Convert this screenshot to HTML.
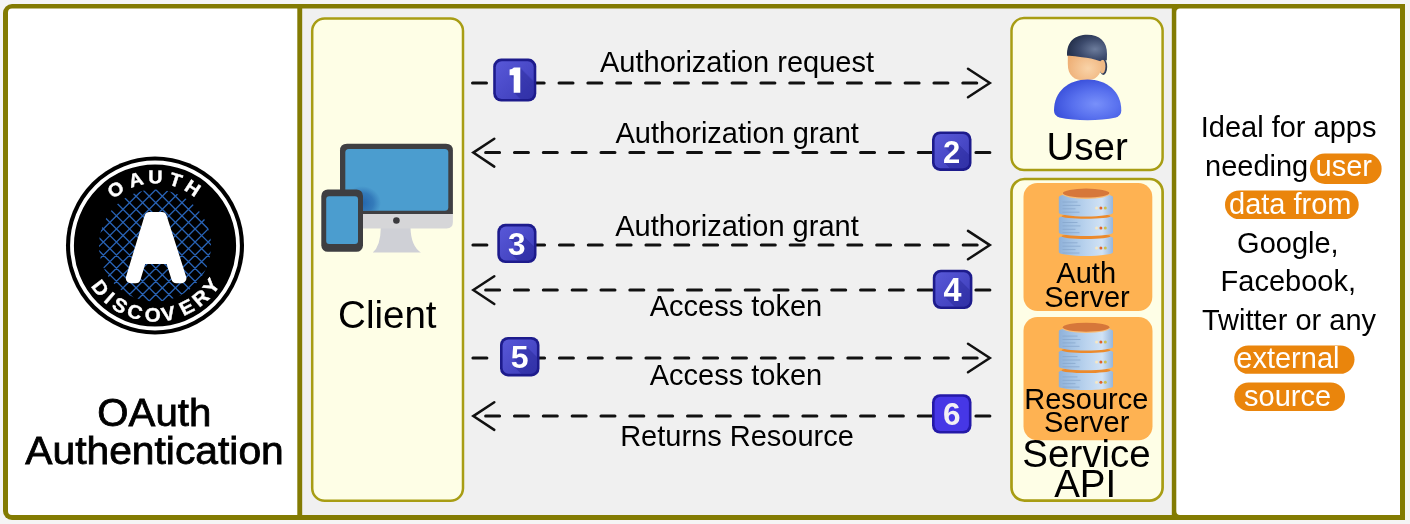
<!DOCTYPE html>
<html><head><meta charset="utf-8"><title>OAuth Authentication</title>
<style>
html,body{margin:0;padding:0;background:#f5f5f5;}
body{width:1410px;height:524px;overflow:hidden;}
svg{display:block;will-change:transform;}
text{font-family:"Liberation Sans",sans-serif;}
</style></head>
<body>
<svg width="1410" height="524" viewBox="0 0 1410 524">
<defs>
  <clipPath id="bc1"><rect x="495.8" y="61.2" width="37.9" height="37.7" rx="6"/></clipPath>
  <clipPath id="bc2"><rect x="934.6" y="134.0" width="34.3" height="34.3" rx="6"/></clipPath>
  <clipPath id="bc3"><rect x="499.9" y="226.4" width="34.0" height="34.0" rx="6"/></clipPath>
  <clipPath id="bc4"><rect x="935.4" y="272.3" width="34.4" height="34.1" rx="6"/></clipPath>
  <clipPath id="bc5"><rect x="502.6" y="339.5" width="34.3" height="34.3" rx="6"/></clipPath>
  <clipPath id="screenClip"><rect x="345.3" y="149" width="103" height="61.8" rx="3.5"/></clipPath>
  <radialGradient id="shadowG"><stop offset="0" stop-color="#1f5fa8" stop-opacity="0.9"/><stop offset="0.6" stop-color="#2464ac" stop-opacity="0.6"/><stop offset="1" stop-color="#2a6ab0" stop-opacity="0"/></radialGradient>
  <clipPath id="hatchClip"><circle cx="155" cy="245.5" r="56"/></clipPath>
  <linearGradient id="badgeG" x1="0" y1="0" x2="1" y2="1">
    <stop offset="0" stop-color="#5858d8"/><stop offset="1" stop-color="#3c3cb8"/>
  </linearGradient>
  <linearGradient id="cylG" x1="0" y1="0" x2="1" y2="0">
    <stop offset="0" stop-color="#8fb1d9"/><stop offset="0.3" stop-color="#a9c7e7"/><stop offset="0.5" stop-color="#bad3ee"/><stop offset="0.8" stop-color="#d0e2f5"/><stop offset="1" stop-color="#96b6dc"/>
  </linearGradient>
  <radialGradient id="bodyG" cx="0.62" cy="0.6" r="0.62">
    <stop offset="0" stop-color="#7890fa"/><stop offset="0.55" stop-color="#5870ee"/><stop offset="1" stop-color="#3c52dc"/>
  </radialGradient>
  <radialGradient id="skinG" cx="0.6" cy="0.6" r="0.65">
    <stop offset="0" stop-color="#f9d3a8"/><stop offset="1" stop-color="#eeae74"/>
  </radialGradient>
  <radialGradient id="hairG" cx="0.7" cy="0.55" r="0.65">
    <stop offset="0" stop-color="#6c7c9c"/><stop offset="0.6" stop-color="#3c4a6c"/><stop offset="1" stop-color="#27334f"/>
  </radialGradient>
</defs>

<!-- outer frame -->
<rect x="0" y="0" width="1410" height="524" fill="#f5f5f5"/>
<path d="M12 4 H1405 V520 H12 A9 9 0 0 1 3 511 V13 A9 9 0 0 1 12 4 Z" fill="#837b02"/>
<path d="M12 8.5 H297.3 V515 H12 A4 4 0 0 1 8 511 V12.5 A4 4 0 0 1 12 8.5 Z" fill="#ffffff"/>
<rect x="302.2" y="8.5" width="869.6" height="506.5" fill="#f0f0f0"/>
<path d="M1180 8.5 H1400 V515 H1180 A3.7 3.7 0 0 1 1176.3 511.3 V12.2 A3.7 3.7 0 0 1 1180 8.5 Z" fill="#ffffff"/>

<!-- ============ LEFT PANEL ============ -->
<g id="logo">
  <circle cx="155" cy="245.5" r="89" fill="#000"/>
  <circle cx="155" cy="245.5" r="83" fill="none" stroke="#fff" stroke-width="3.8"/>
  <g clip-path="url(#hatchClip)" stroke="#2862b4" stroke-width="1.35" fill="none">
    <path d="M93.0 100.7L217.0 224.7M93.0 113.8L217.0 237.8M93.0 126.9L217.0 250.9M93.0 140.0L217.0 264.0M93.0 153.1L217.0 277.1M93.0 166.2L217.0 290.2M93.0 179.3L217.0 303.3M93.0 192.4L217.0 316.4M93.0 205.5L217.0 329.5M93.0 218.6L217.0 342.6M93.0 231.7L217.0 355.7M93.0 244.8L217.0 368.8M93.0 257.9L217.0 381.9M93.0 226.2L217.0 102.2M93.0 239.3L217.0 115.3M93.0 252.4L217.0 128.4M93.0 265.5L217.0 141.5M93.0 278.6L217.0 154.6M93.0 291.7L217.0 167.7M93.0 304.8L217.0 180.8M93.0 317.9L217.0 193.9M93.0 331.0L217.0 207.0M93.0 344.1L217.0 220.1M93.0 357.2L217.0 233.2M93.0 370.3L217.0 246.3M93.0 383.4L217.0 259.4"/>
  </g>
  <path d="M149.43 217.00 L161.81 217.00 L181.40 278.20 L176.36 278.20 L170.25 259.10 L141.49 259.10 L135.69 278.20 L130.82 278.20 Z" fill="#fff" stroke="#fff" stroke-width="10" stroke-linejoin="round"/>
  <g fill="#fff" stroke="#fff" stroke-width="0.4" font-weight="bold" text-anchor="middle">
    <text transform="translate(155 245.5) rotate(-35) scale(1.07 1)" x="0" y="-62.3" font-size="18.5">O</text>
    <text transform="translate(155 245.5) rotate(-16.3) scale(1.07 1)" x="0" y="-62.3" font-size="18.5">A</text>
    <text transform="translate(155 245.5) rotate(0.3) scale(1.07 1)" x="0" y="-62.3" font-size="18.5">U</text>
    <text transform="translate(155 245.5) rotate(17.6) scale(1.07 1)" x="0" y="-62.3" font-size="18.5">T</text>
    <text transform="translate(155 245.5) rotate(33.4) scale(1.07 1)" x="0" y="-62.3" font-size="18.5">H</text>
    <text transform="translate(155 245.5) rotate(52.1) scale(1.07 1)" x="0" y="76" font-size="19.3">D</text>
    <text transform="translate(155 245.5) rotate(41.1) scale(1.07 1)" x="0" y="76" font-size="19.3">I</text>
    <text transform="translate(155 245.5) rotate(30.3) scale(1.07 1)" x="0" y="76" font-size="19.3">S</text>
    <text transform="translate(155 245.5) rotate(17) scale(1.07 1)" x="0" y="76" font-size="19.3">C</text>
    <text transform="translate(155 245.5) rotate(1.9) scale(1.07 1)" x="0" y="76" font-size="19.3">O</text>
    <text transform="translate(155 245.5) rotate(-11) scale(1.07 1)" x="0" y="76" font-size="19.3">V</text>
    <text transform="translate(155 245.5) rotate(-27.1) scale(1.07 1)" x="0" y="76" font-size="19.3">E</text>
    <text transform="translate(155 245.5) rotate(-40.9) scale(1.07 1)" x="0" y="76" font-size="19.3">R</text>
    <text transform="translate(155 245.5) rotate(-54) scale(1.07 1)" x="0" y="76" font-size="19.3">Y</text>
  </g>
</g>

<text x="154.3" y="426" font-size="38.5" text-anchor="middle" fill="#000" stroke="#000" stroke-width="0.8" textLength="114" lengthAdjust="spacingAndGlyphs">OAuth</text>
<text x="154.5" y="464.3" font-size="38.5" text-anchor="middle" fill="#000" stroke="#000" stroke-width="0.8" textLength="258.5" lengthAdjust="spacingAndGlyphs">Authentication</text>

<!-- ============ MIDDLE ============ -->
<rect x="312.2" y="18.5" width="150.8" height="482.2" rx="12.5" fill="#fefee6" stroke="#a89d14" stroke-width="2.5"/>
<text x="387.3" y="328.4" font-size="38.5" text-anchor="middle" fill="#000">Client</text>
<g id="monitor">
  <path d="M380.8 228 L410.5 228 Q411 246 420.9 252.5 L372.8 252.5 Q380.5 246 380.8 228 Z" fill="#cfd0d6"/>
  <path d="M340 213 H452.9 V222 Q452.9 228.4 446.5 228.4 H346.4 Q340 228.4 340 222 Z" fill="#d6d6d8"/>
  <path d="M347 143.7 H446 Q452.9 143.7 452.9 150.6 V214 H340 V150.6 Q340 143.7 347 143.7 Z" fill="#3f3f42"/>
  <rect x="345.3" y="149" width="103" height="61.8" rx="3.5" fill="#4b9dcf"/>
  <circle cx="396.4" cy="220.5" r="3.3" fill="#3a3a3d"/>
  <ellipse cx="362" cy="203" rx="19" ry="17" fill="url(#shadowG)" clip-path="url(#screenClip)"/>
  <rect x="321.3" y="189.4" width="41.7" height="62.4" rx="6.5" fill="#3e3e41"/>
  <rect x="326.2" y="196.2" width="31.8" height="47.7" rx="3" fill="#4b9dcf"/>
</g>

<rect x="1011.5" y="18.1" width="151.1" height="152" rx="12.5" fill="#fefee6" stroke="#a89d14" stroke-width="2.5"/>
<text x="1087.2" y="160.2" font-size="38.5" text-anchor="middle" fill="#000">User</text>
<g id="usericon">
  <ellipse cx="1103.3" cy="66.8" rx="3.9" ry="8.2" fill="#34405e"/>
  <ellipse cx="1102.4" cy="66.5" rx="3" ry="7" fill="#efb985"/>
  <path d="M1067.8 50 L1101.6 50 L1101.6 64 C1101.6 75.5 1095.5 80.6 1085 80.6 C1074 80.6 1067.8 75.5 1067.8 64 Z" fill="url(#skinG)"/>
  <path d="M1067.1 55.8 C1066.4 41 1075.5 34.7 1087.3 34.7 C1099.5 34.7 1107.3 41.5 1107 54 L1106.8 60.5 C1104.5 59.3 1102 59.6 1100.3 61.2 C1094 58.6 1088 57.9 1082 57.2 C1076 56.4 1071 55.2 1067.1 55.8 Z" fill="url(#hairG)"/>
  <path d="M1054 110.5 C1054 91.5 1068.5 79.6 1087.6 79.6 C1106.7 79.6 1121.3 91.5 1121.3 110.5 Q1121.3 115.5 1116 117.6 Q1103 120.3 1087.6 120.3 Q1072 120.3 1059.3 117.6 Q1054 115.5 1054 110.5 Z" fill="url(#bodyG)"/>
</g>

<rect x="1011.5" y="179" width="151.1" height="321.6" rx="13" fill="#fefee6" stroke="#a89d14" stroke-width="2.7"/>
<rect x="1023.5" y="183" width="128.8" height="128" rx="14" fill="#feb252"/>
<rect x="1023.5" y="317" width="129" height="123.3" rx="14" fill="#feb252"/>
<g id="db">
<path d="M1058.8 238.1 A27.1 3.6 0 0 1 1113.0 238.1 V252.3 A27.1 3.6 0 0 1 1058.8 252.3 Z" fill="url(#cylG)"/>
<ellipse cx="1086" cy="236.3" rx="24.5" ry="2.7" fill="#ec8a2c"/>
<path d="M1058.8 218.1 A27.1 3.6 0 0 1 1113.0 218.1 V232.5 A27.1 3.6 0 0 1 1058.8 232.5 Z" fill="url(#cylG)"/>
<ellipse cx="1086" cy="216.2" rx="24.5" ry="2.6" fill="#ec8a2c"/>
<path d="M1058.8 196.9 A27.1 3.6 0 0 1 1113.0 196.9 V212.8 A27.1 3.6 0 0 1 1058.8 212.8 Z" fill="url(#cylG)"/>
<ellipse cx="1086.1" cy="193.9" rx="23.7" ry="5" fill="#f8bd78"/>
<ellipse cx="1086.1" cy="193.1" rx="23.3" ry="4.5" fill="#d6773a"/>
<g stroke="#86a6cc" stroke-width="1" opacity="0.75">
<path d="M1062.5 202.0h15M1062.5 205.4h18M1062.5 208.8h13M1062.5 212.2h17"/>
<path d="M1062.5 222.5h15M1062.5 225.9h18M1062.5 229.3h13M1062.5 232.7h17"/>
<path d="M1062.5 242.8h15M1062.5 246.2h18M1062.5 249.6h13M1062.5 253.0h17"/>
</g>
<g>
<circle cx="1096.6" cy="207.9" r="1.5" fill="#f6e8c4"/><circle cx="1100.9" cy="207.9" r="1.5" fill="#e2642a"/><circle cx="1105.3" cy="207.9" r="1.5" fill="#cdbf4c"/>
<circle cx="1096.6" cy="228" r="1.5" fill="#f6e8c4"/><circle cx="1100.9" cy="228" r="1.5" fill="#e2642a"/><circle cx="1105.3" cy="228" r="1.5" fill="#cdbf4c"/>
<circle cx="1096.6" cy="248.1" r="1.5" fill="#f6e8c4"/><circle cx="1100.9" cy="248.1" r="1.5" fill="#e2642a"/><circle cx="1105.3" cy="248.1" r="1.5" fill="#cdbf4c"/>
</g>
</g>
<use href="#db" transform="translate(0 134.1)"/>
<text x="1086.2" y="283.3" font-size="29" text-anchor="middle" fill="#000">Auth</text>
<text x="1087" y="306.8" font-size="29" text-anchor="middle" fill="#000">Server</text>
<text x="1086.3" y="408.5" font-size="29" text-anchor="middle" fill="#000">Resource</text>
<text x="1086.7" y="432.1" font-size="29" text-anchor="middle" fill="#000">Server</text>
<text x="1086.5" y="467" font-size="38.5" text-anchor="middle" fill="#000">Service</text>
<text x="1085.2" y="496.6" font-size="38.5" text-anchor="middle" fill="#000">API</text>

<!-- arrows -->
<g stroke="#111" stroke-width="3" fill="none">
  <line x1="471" y1="83" x2="989.5" y2="83" stroke-dasharray="14 14.84" stroke-dashoffset="-1.5" stroke-linecap="round"/>
  <line x1="991.4" y1="152.6" x2="473" y2="152.6" stroke-dasharray="14 14.84" stroke-dashoffset="-1.5" stroke-linecap="round"/>
  <line x1="471.4" y1="245.1" x2="989.5" y2="245.1" stroke-dasharray="14 14.84" stroke-dashoffset="-1.5" stroke-linecap="round"/>
  <line x1="991.4" y1="290" x2="473" y2="290" stroke-dasharray="14 14.84" stroke-dashoffset="-1.5" stroke-linecap="round"/>
  <line x1="471.4" y1="358" x2="989.5" y2="358" stroke-dasharray="14 14.84" stroke-dashoffset="-1.5" stroke-linecap="round"/>
  <line x1="991.4" y1="416.1" x2="473" y2="416.1" stroke-dasharray="14 14.84" stroke-dashoffset="-1.5" stroke-linecap="round"/>
  <g stroke-width="2.5" stroke-linecap="round">
  <polyline points="968,68.8 989.8,83 968,97.2"/>
  <polyline points="494.3,138.8 473.3,152.6 494.3,166.6"/>
  <polyline points="968,230.9 989.8,245.1 968,259.3"/>
  <polyline points="494.3,276.2 473.3,290 494.3,304"/>
  <polyline points="968,343.8 989.8,358 968,372.2"/>
  <polyline points="494.3,402.3 473.3,416.1 494.3,429.9"/>
  </g>
</g>

<g font-size="29" text-anchor="middle" fill="#000">
  <text x="737" y="72.3">Authorization request</text>
  <text x="737.2" y="142.8">Authorization grant</text>
  <text x="737" y="235.5">Authorization grant</text>
  <text x="736" y="316.1">Access token</text>
  <text x="736" y="385.1">Access token</text>
  <text x="737" y="445.6">Returns Resource</text>
</g>

<!-- badges -->
<g id="badges">
<rect x="493.2" y="58.6" width="43.1" height="42.9" rx="8" fill="#1d1b8c"/>
<rect x="495.8" y="61.2" width="37.9" height="37.7" rx="6" fill="url(#badgeG)"/>
<g clip-path="url(#bc1)" opacity="0.38" fill="#22228e"><g visibility="hidden"><path id="dg1" d="M509.6 69.4 Q512.2 69.3 513.9 67.4 L520.3 67.4 L520.3 92.7 L513.7 92.7 L513.7 75.3 L509.6 75.3 Z"/></g><use href="#dg1" x="1" y="1"/><use href="#dg1" x="2" y="2"/><use href="#dg1" x="3" y="3"/><use href="#dg1" x="4" y="4"/><use href="#dg1" x="5" y="5"/><use href="#dg1" x="6" y="6"/><use href="#dg1" x="7" y="7"/><use href="#dg1" x="8" y="8"/><use href="#dg1" x="9" y="9"/><use href="#dg1" x="10" y="10"/><use href="#dg1" x="11" y="11"/><use href="#dg1" x="12" y="12"/><use href="#dg1" x="13" y="13"/><use href="#dg1" x="14" y="14"/><use href="#dg1" x="15" y="15"/><use href="#dg1" x="16" y="16"/><use href="#dg1" x="17" y="17"/><use href="#dg1" x="18" y="18"/><use href="#dg1" x="19" y="19"/><use href="#dg1" x="20" y="20"/><use href="#dg1" x="21" y="21"/><use href="#dg1" x="22" y="22"/><use href="#dg1" x="23" y="23"/><use href="#dg1" x="24" y="24"/><use href="#dg1" x="25" y="25"/><use href="#dg1" x="26" y="26"/><use href="#dg1" x="27" y="27"/><use href="#dg1" x="28" y="28"/><use href="#dg1" x="29" y="29"/><use href="#dg1" x="30" y="30"/><use href="#dg1" x="31" y="31"/><use href="#dg1" x="32" y="32"/><use href="#dg1" x="33" y="33"/><use href="#dg1" x="34" y="34"/><use href="#dg1" x="35" y="35"/></g>
<path d="M509.6 69.4 Q512.2 69.3 513.9 67.4 L520.3 67.4 L520.3 92.7 L513.7 92.7 L513.7 75.3 L509.6 75.3 Z" fill="#fff"/>
<rect x="932" y="131.4" width="39.5" height="39.5" rx="8" fill="#1d1b8c"/>
<rect x="934.6" y="134.0" width="34.3" height="34.3" rx="6" fill="url(#badgeG)"/>
<g clip-path="url(#bc2)" opacity="0.38" fill="#22228e"><g visibility="hidden"><text id="dg2" x="951.6" y="162.9" font-size="31" font-weight="bold" text-anchor="middle">2</text></g><use href="#dg2" x="1" y="1"/><use href="#dg2" x="2" y="2"/><use href="#dg2" x="3" y="3"/><use href="#dg2" x="4" y="4"/><use href="#dg2" x="5" y="5"/><use href="#dg2" x="6" y="6"/><use href="#dg2" x="7" y="7"/><use href="#dg2" x="8" y="8"/><use href="#dg2" x="9" y="9"/><use href="#dg2" x="10" y="10"/><use href="#dg2" x="11" y="11"/><use href="#dg2" x="12" y="12"/><use href="#dg2" x="13" y="13"/><use href="#dg2" x="14" y="14"/><use href="#dg2" x="15" y="15"/><use href="#dg2" x="16" y="16"/><use href="#dg2" x="17" y="17"/><use href="#dg2" x="18" y="18"/><use href="#dg2" x="19" y="19"/><use href="#dg2" x="20" y="20"/><use href="#dg2" x="21" y="21"/><use href="#dg2" x="22" y="22"/><use href="#dg2" x="23" y="23"/><use href="#dg2" x="24" y="24"/><use href="#dg2" x="25" y="25"/><use href="#dg2" x="26" y="26"/><use href="#dg2" x="27" y="27"/><use href="#dg2" x="28" y="28"/><use href="#dg2" x="29" y="29"/><use href="#dg2" x="30" y="30"/><use href="#dg2" x="31" y="31"/><use href="#dg2" x="32" y="32"/><use href="#dg2" x="33" y="33"/><use href="#dg2" x="34" y="34"/><use href="#dg2" x="35" y="35"/></g>
<text x="951.6" y="162.9" font-size="31" font-weight="bold" text-anchor="middle" fill="#fff">2</text>
<rect x="497.3" y="223.8" width="39.2" height="39.2" rx="8" fill="#1d1b8c"/>
<rect x="499.9" y="226.4" width="34.0" height="34.0" rx="6" fill="url(#badgeG)"/>
<g clip-path="url(#bc3)" opacity="0.38" fill="#22228e"><g visibility="hidden"><text id="dg3" x="516.7" y="254.6" font-size="31.5" font-weight="bold" text-anchor="middle">3</text></g><use href="#dg3" x="1" y="1"/><use href="#dg3" x="2" y="2"/><use href="#dg3" x="3" y="3"/><use href="#dg3" x="4" y="4"/><use href="#dg3" x="5" y="5"/><use href="#dg3" x="6" y="6"/><use href="#dg3" x="7" y="7"/><use href="#dg3" x="8" y="8"/><use href="#dg3" x="9" y="9"/><use href="#dg3" x="10" y="10"/><use href="#dg3" x="11" y="11"/><use href="#dg3" x="12" y="12"/><use href="#dg3" x="13" y="13"/><use href="#dg3" x="14" y="14"/><use href="#dg3" x="15" y="15"/><use href="#dg3" x="16" y="16"/><use href="#dg3" x="17" y="17"/><use href="#dg3" x="18" y="18"/><use href="#dg3" x="19" y="19"/><use href="#dg3" x="20" y="20"/><use href="#dg3" x="21" y="21"/><use href="#dg3" x="22" y="22"/><use href="#dg3" x="23" y="23"/><use href="#dg3" x="24" y="24"/><use href="#dg3" x="25" y="25"/><use href="#dg3" x="26" y="26"/><use href="#dg3" x="27" y="27"/><use href="#dg3" x="28" y="28"/><use href="#dg3" x="29" y="29"/><use href="#dg3" x="30" y="30"/><use href="#dg3" x="31" y="31"/><use href="#dg3" x="32" y="32"/><use href="#dg3" x="33" y="33"/><use href="#dg3" x="34" y="34"/><use href="#dg3" x="35" y="35"/></g>
<text x="516.7" y="254.6" font-size="31.5" font-weight="bold" text-anchor="middle" fill="#fff">3</text>
<rect x="932.8" y="269.7" width="39.6" height="39.3" rx="8" fill="#1d1b8c"/>
<rect x="935.4" y="272.3" width="34.4" height="34.1" rx="6" fill="url(#badgeG)"/>
<g clip-path="url(#bc4)" opacity="0.38" fill="#22228e"><g visibility="hidden"><text id="dg4" x="952.4" y="301" font-size="32.3" font-weight="bold" text-anchor="middle">4</text></g><use href="#dg4" x="1" y="1"/><use href="#dg4" x="2" y="2"/><use href="#dg4" x="3" y="3"/><use href="#dg4" x="4" y="4"/><use href="#dg4" x="5" y="5"/><use href="#dg4" x="6" y="6"/><use href="#dg4" x="7" y="7"/><use href="#dg4" x="8" y="8"/><use href="#dg4" x="9" y="9"/><use href="#dg4" x="10" y="10"/><use href="#dg4" x="11" y="11"/><use href="#dg4" x="12" y="12"/><use href="#dg4" x="13" y="13"/><use href="#dg4" x="14" y="14"/><use href="#dg4" x="15" y="15"/><use href="#dg4" x="16" y="16"/><use href="#dg4" x="17" y="17"/><use href="#dg4" x="18" y="18"/><use href="#dg4" x="19" y="19"/><use href="#dg4" x="20" y="20"/><use href="#dg4" x="21" y="21"/><use href="#dg4" x="22" y="22"/><use href="#dg4" x="23" y="23"/><use href="#dg4" x="24" y="24"/><use href="#dg4" x="25" y="25"/><use href="#dg4" x="26" y="26"/><use href="#dg4" x="27" y="27"/><use href="#dg4" x="28" y="28"/><use href="#dg4" x="29" y="29"/><use href="#dg4" x="30" y="30"/><use href="#dg4" x="31" y="31"/><use href="#dg4" x="32" y="32"/><use href="#dg4" x="33" y="33"/><use href="#dg4" x="34" y="34"/><use href="#dg4" x="35" y="35"/></g>
<text x="952.4" y="301" font-size="32.3" font-weight="bold" text-anchor="middle" fill="#fff">4</text>
<rect x="500" y="336.9" width="39.5" height="39.5" rx="8" fill="#1d1b8c"/>
<rect x="502.6" y="339.5" width="34.3" height="34.3" rx="6" fill="url(#badgeG)"/>
<g clip-path="url(#bc5)" opacity="0.38" fill="#22228e"><g visibility="hidden"><text id="dg5" x="519.6" y="368" font-size="32" font-weight="bold" text-anchor="middle">5</text></g><use href="#dg5" x="1" y="1"/><use href="#dg5" x="2" y="2"/><use href="#dg5" x="3" y="3"/><use href="#dg5" x="4" y="4"/><use href="#dg5" x="5" y="5"/><use href="#dg5" x="6" y="6"/><use href="#dg5" x="7" y="7"/><use href="#dg5" x="8" y="8"/><use href="#dg5" x="9" y="9"/><use href="#dg5" x="10" y="10"/><use href="#dg5" x="11" y="11"/><use href="#dg5" x="12" y="12"/><use href="#dg5" x="13" y="13"/><use href="#dg5" x="14" y="14"/><use href="#dg5" x="15" y="15"/><use href="#dg5" x="16" y="16"/><use href="#dg5" x="17" y="17"/><use href="#dg5" x="18" y="18"/><use href="#dg5" x="19" y="19"/><use href="#dg5" x="20" y="20"/><use href="#dg5" x="21" y="21"/><use href="#dg5" x="22" y="22"/><use href="#dg5" x="23" y="23"/><use href="#dg5" x="24" y="24"/><use href="#dg5" x="25" y="25"/><use href="#dg5" x="26" y="26"/><use href="#dg5" x="27" y="27"/><use href="#dg5" x="28" y="28"/><use href="#dg5" x="29" y="29"/><use href="#dg5" x="30" y="30"/><use href="#dg5" x="31" y="31"/><use href="#dg5" x="32" y="32"/><use href="#dg5" x="33" y="33"/><use href="#dg5" x="34" y="34"/><use href="#dg5" x="35" y="35"/></g>
<text x="519.6" y="368" font-size="32" font-weight="bold" text-anchor="middle" fill="#fff">5</text>
<rect x="932" y="394.2" width="39.5" height="39.3" rx="8" fill="#2419a8"/>
<rect x="934.6" y="396.8" width="34.3" height="34.1" rx="6" fill="#4637e6"/>
<text x="951.7" y="425.3" font-size="31.5" font-weight="bold" text-anchor="middle" fill="#f2f0f4">6</text>
</g>

<!-- ============ RIGHT PANEL ============ -->
<g font-size="29" text-anchor="middle" fill="#000">
  <text x="1288.6" y="137.4">Ideal for apps</text>
  <text x="1287.9" y="252.5">Google,</text>
  <text x="1288.3" y="291">Facebook,</text>
  <text x="1289" y="329.8">Twitter or any</text>
</g>
<rect x="1309.9" y="153.6" width="71.7" height="30.4" rx="15" fill="#ea850c"/>
<rect x="1225" y="190.4" width="133.7" height="28.7" rx="14.3" fill="#ea850c"/>
<rect x="1234.1" y="345.4" width="120.4" height="28.4" rx="14.2" fill="#ea850c"/>
<rect x="1234.3" y="382.4" width="110.7" height="28.6" rx="14.3" fill="#ea850c"/>
<g font-size="29" fill="#000">
  <text x="1205" y="175.6">needing</text>
</g>
<g font-size="29" fill="#fff">
  <text x="1315.6" y="175.6">user</text>
  <text x="1229" y="213.6">data from</text>
  <text x="1236.3" y="367.9">external</text>
  <text x="1244" y="405.9">source</text>
</g>

</svg>
</body></html>
